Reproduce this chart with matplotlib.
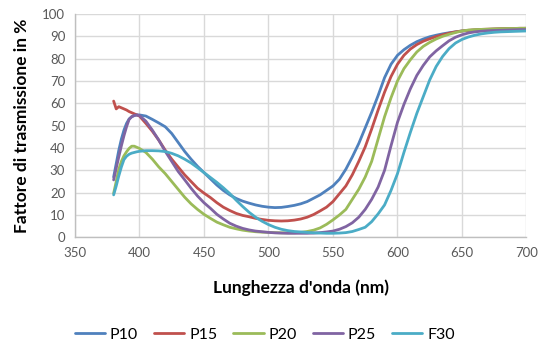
import matplotlib
matplotlib.use("Agg")
import matplotlib.pyplot as plt

wavelength = [380, 382, 384, 386, 388, 390, 392, 394, 396, 398, 400,
              405, 410, 415, 420, 425, 430, 435, 440, 445, 450,
              455, 460, 465, 470, 475, 480, 485, 490, 495, 500,
              505, 510, 515, 520, 525, 530, 535, 540, 545, 550,
              555, 560, 565, 570, 575, 580, 585, 590, 595, 600,
              605, 610, 615, 620, 625, 630, 635, 640, 645, 650,
              655, 660, 665, 670, 675, 680, 685, 690, 695, 700]

p10 = [27, 33, 39, 44, 48, 51, 53, 54, 54.5, 54.8, 54.8,
       54.3, 52.8, 51.2, 49.5, 46.5, 42.5, 38.5, 35, 31.8, 29,
       26.2, 23.4, 21, 19, 17.4, 16.2, 15.3, 14.5, 13.9, 13.5,
       13.3, 13.4, 13.8, 14.3, 15, 16, 17.5, 19, 21, 23,
       26, 30.5, 36, 42, 49, 56, 63.5, 71.5, 77.5, 81.5,
       84, 86, 87.6, 88.8, 89.8, 90.5, 91.1, 91.6, 92, 92.4,
       92.6, 92.8, 93, 93.1, 93.2, 93.3, 93.4, 93.5, 93.5, 93.6]

p15 = [61, 57.5, 58.5, 58, 57.5, 57, 56.3, 55.8, 55.3, 54.8, 54.3,
       51, 47.5, 43.5, 39, 35, 31.5, 28, 25, 22, 19.8,
       17.8, 15.5, 13.5, 12, 10.7, 9.8, 9.2, 8.5, 8, 7.6,
       7.4, 7.3, 7.4, 7.7, 8.2, 9, 10.2, 11.8, 13.5, 16,
       19.5, 23, 28, 34, 40.5, 48.5, 57, 65, 72, 77.5,
       81.5, 84.3, 86.3, 87.8, 88.9, 89.9, 90.7, 91.4, 92, 92.4,
       92.7, 92.9, 93.1, 93.2, 93.3, 93.4, 93.5, 93.5, 93.6, 93.6]

p20 = [19.7, 25, 30.5, 34, 36.5, 38.3, 39.8, 40.8, 40.8, 40.3, 39.8,
       38, 35, 31.5, 28.5, 25, 21.5, 18, 15, 12.5, 10.3,
       8.5, 6.8, 5.6, 4.5, 3.8, 3.2, 2.8, 2.5, 2.3, 2.2,
       2.1, 2, 2, 2, 2.2, 2.6, 3.2, 4.2, 5.8, 7.8,
       10, 12.5, 17, 21.5, 27, 34, 44, 54, 62.5, 70,
       75.5, 79.5, 83, 85.5, 87.3, 88.8, 90, 90.9, 91.7, 92.4,
       92.8, 93, 93.1, 93.2, 93.3, 93.4, 93.5, 93.5, 93.6, 93.6]

p25 = [25.7, 31, 36, 41, 45.5, 49.5, 52.8, 54, 54.6, 54.8, 54.5,
       52, 48, 43.5, 38.5, 34, 29.5, 25.8, 22, 18.5, 15.5,
       13, 10.3, 8.2, 6.3, 5, 4, 3.3, 2.8, 2.5, 2.2,
       2, 1.9, 1.8, 1.8, 1.8, 1.8, 1.9, 2.1, 2.4, 2.8,
       3.6, 4.8, 6.5, 9, 12.5, 17, 22.5, 30, 41, 51.5,
       59.5, 66.5, 72.5, 77, 80.8, 83.5, 85.8, 88, 89.6, 90.7,
       91.5, 92, 92.3, 92.5, 92.6, 92.7, 92.8, 92.9, 93, 93]

f30 = [19, 23, 27.5, 31.5, 34.8, 36.3, 37.2, 37.7, 38, 38.3, 38.5,
       38.8, 38.8, 38.7, 38.4, 37.6, 36.5, 35, 33.3, 31.2, 29,
       26.8, 24.6, 22.2, 19.6, 16.6, 13.8, 11.2, 9, 7.2, 5.7,
       4.5, 3.6, 3, 2.6, 2.4, 2.2, 2, 1.9, 1.8, 1.8,
       1.9, 2.1, 2.6, 3.5, 4.5, 7, 10.5, 14.5, 21, 28.5,
       38, 47, 55.5, 63, 70.5, 76.5, 81, 84.5, 87, 88.6,
       89.7, 90.5, 91.1, 91.5, 91.8, 92, 92.1, 92.2, 92.3, 92.4]

series = [("P10", p10, "#4F81BD"), ("P15", p15, "#C0504D"),
          ("P20", p20, "#9BBB59"), ("P25", p25, "#8064A2"),
          ("F30", f30, "#4BACC6")]

x_ticks = [350, 400, 450, 500, 550, 600, 650, 700]
y_ticks = [0, 10, 20, 30, 40, 50, 60, 70, 80, 90, 100]

plt.rcParams['font.family'] = ['Lato', 'DejaVu Sans']

fig = plt.figure(figsize=(5.47, 3.56), dpi=100)
ax = fig.add_axes([0.137, 0.3334, 0.8255, 0.6273])

for name, vals, col in series:
    ax.plot(wavelength, vals, color=col, lw=2.0, label=name, solid_capstyle='round')

ax.set_xlim(350, 700)
ax.set_ylim(0, 100)
ax.set_xticks(x_ticks)
ax.set_yticks(y_ticks)
ax.grid(True, color="#D9D9D9", lw=1.0)
ax.set_axisbelow(True)
for s in ['top', 'right']:
    ax.spines[s].set_visible(False)
for s in ['left', 'bottom']:
    ax.spines[s].set_color("#BFBFBF")
    ax.spines[s].set_linewidth(1.0)
ax.tick_params(length=0, labelsize=9.5, labelcolor="#595959", pad=7)

ax.set_xlabel("Lunghezza d'onda (nm)", fontsize=12.5, fontweight='bold', labelpad=15)
ax.set_ylabel("Fattore di trasmissione in %", fontsize=12.5, fontweight='bold', labelpad=9)

fig.legend(loc='lower center', bbox_to_anchor=(0.484, 0.0), ncol=5, frameon=False,
           fontsize=11.5, handlelength=1.9, columnspacing=1.0, handletextpad=0.3)

fig.savefig("out.png", dpi=100)
